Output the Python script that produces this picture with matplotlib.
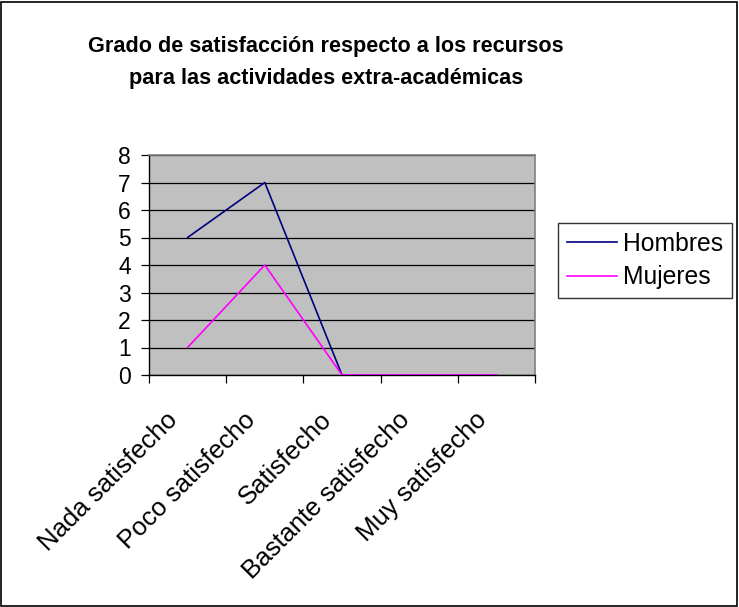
import matplotlib

matplotlib.use("Agg")

import matplotlib.pyplot as plt
from matplotlib.patches import Rectangle
from matplotlib.ticker import FixedLocator
from matplotlib.transforms import ScaledTranslation

categories = ["Nada satisfecho", "Poco satisfecho", "Satisfecho",
              "Bastante satisfecho", "Muy satisfecho"]
hombres = [5, 7, 0, 0, 0]
mujeres = [1, 4, 0, 0, 0]

plt.rcParams["font.family"] = ["Liberation Sans", "DejaVu Sans"]

fig = plt.figure(figsize=(7.39, 6.07), dpi=100)
ax = fig.add_axes([149 / 739, 1 - 375 / 607, 386 / 739, 220 / 607])
ax.set_facecolor("#C0C0C0")

x = [i + 0.5 for i in range(len(categories))]
ax.plot(x, hombres, color="#000080", lw=1.2, label="Hombres", zorder=3)
ax.plot(x, mujeres, color="#FF00FF", lw=1.2, label="Mujeres", zorder=4)

ax.set_xlim(0, len(categories))
ax.set_ylim(0, 8)
ax.set_yticks(range(0, 9))
ax.yaxis.grid(True, color="black", lw=0.9)
ax.set_axisbelow(True)
ax.tick_params(axis="y", labelsize=16.5, length=6, width=0.9, direction="out", pad=7)

# category labels sit between boundary tick marks
ax.set_xticks(x)
labels = ax.set_xticklabels(categories, rotation=45, ha="right", va="top",
                            rotation_mode="anchor", fontsize=18.5)
ax.tick_params(axis="x", which="major", length=0, pad=10)
ax.xaxis.set_minor_locator(FixedLocator(range(0, len(categories) + 1)))
ax.tick_params(axis="x", which="minor", length=6, width=0.9, direction="out")
shift = ScaledTranslation(-0.22, -0.19, fig.dpi_scale_trans)
for lab in labels:
    lab.set_transform(lab.get_transform() + shift)

for side in ("left", "bottom"):
    ax.spines[side].set_color("black")
    ax.spines[side].set_linewidth(1.0)
for side in ("top", "right"):
    ax.spines[side].set_color("#808080")
    ax.spines[side].set_linewidth(1.2)

fig.text(326 / 739, 1 - 62.5 / 607,
         "Grado de satisfacción respecto a los recursos\n"
         "para las actividades extra-académicas",
         ha="center", va="center", fontsize=15.6, fontweight="bold",
         linespacing=1.7)

leg = fig.legend(loc="center", bbox_to_anchor=(645 / 739, 1 - 260.5 / 607),
                 fontsize=17.8, frameon=True, fancybox=False, edgecolor="black",
                 handlelength=2.0, handletextpad=0.25, borderpad=0.35,
                 labelspacing=0.4, borderaxespad=0)
leg.get_frame().set_linewidth(1.0)

fig.patches.append(Rectangle((0.002, 0.002), 0.995, 0.995, transform=fig.transFigure,
                             fill=False, edgecolor="black", lw=1.2))

fig.savefig("out.png", dpi=100)
